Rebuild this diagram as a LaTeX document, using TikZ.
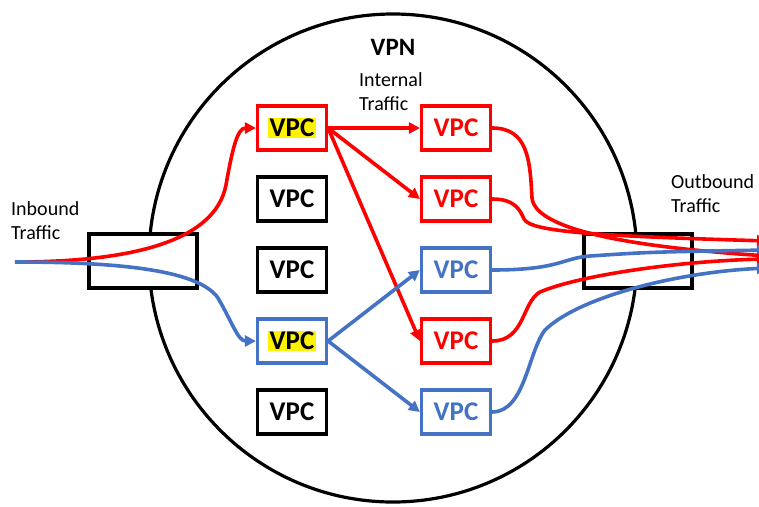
\documentclass[tikz,border=0pt]{standalone}
\usepackage{fontspec}
\setmainfont{Carlito}
\usepackage{xcolor}
\usepackage{tikz}
\usetikzlibrary{arrows.meta}
\definecolor{vpnred}{RGB}{255,0,0}
\definecolor{vpnblue}{RGB}{68,114,196}
\newcommand{\hl}[1]{{\setlength{\fboxsep}{1.5pt}\colorbox{yellow}{#1}}}

\begin{document}
\begin{tikzpicture}[x=1pt,y=-1pt,>={Triangle[length=11pt,width=11pt]},
			vpc/.style={draw=black,line width=3.2pt,fill=white,minimum width=69pt,minimum height=44pt,inner sep=0pt,font=\fontsize{27}{29}\selectfont\bfseries},
			gate/.style={draw=black,line width=3.2pt,fill=white,minimum width=108pt,minimum height=54pt},
			flow/.style={line width=3.6pt},
			lbl/.style={align=left,anchor=north west,inner sep=0pt,font=\fontsize{20}{24}\selectfont},
			]
			\useasboundingbox (0,0) rectangle (759,506);
			% VPN circle
			\draw[line width=3.2pt] (393,258) circle (244pt);
			\node[font=\fontsize{25}{27}\selectfont\bfseries] (vpn) at (393,47) {VPN};
			
			% labels
			\node[lbl] (inlbl) at (11,201) {Inbound\\Traffic};
			\node[lbl] (outlbl) at (671,174) {Outbound\\Traffic};
			\node[lbl] (intlbl) at (359,72) {Internal\\Traffic};
			
			% gateways
			\node[gate] (ingate) at (143,261) {};
			\node[gate] (outgate) at (638,261) {};
			
			% left column
			\node[vpc,draw=vpnred] (l1) at (292,128) {\hl{VPC}};
			\node[vpc] (l2) at (292,199) {VPC};
			\node[vpc] (l3) at (292,270) {VPC};
			\node[vpc,draw=vpnblue] (l4) at (292,341) {\hl{VPC}};
			\node[vpc] (l5) at (292,412) {VPC};
			
			% right column
			\node[vpc,draw=vpnred,text=vpnred] (r1) at (456,128) {VPC};
			\node[vpc,draw=vpnred,text=vpnred] (r2) at (456,199) {VPC};
			\node[vpc,draw=vpnblue,text=vpnblue] (r3) at (456,270) {VPC};
			\node[vpc,draw=vpnred,text=vpnred] (r4) at (456,341) {VPC};
			\node[vpc,draw=vpnblue,text=vpnblue] (r5) at (456,412) {VPC};
			
			% inbound
			\coordinate (src) at (15,262);
			\draw[flow,vpnred,->] (src) .. controls (130,262) and (215,242) .. (226,185)
			.. controls (233,145) and (238,128) .. (l1.west);
			\draw[flow,vpnblue,->] (src) .. controls (130,262) and (200,272) .. (218,298)
			.. controls (232,322) and (238,341) .. (l4.west);
			
			% internal
			\draw[flow,vpnred,->] (l1.east) -- (r1.west);
			\draw[flow,vpnred,->] (l1.east) -- (r2.west);
			\draw[flow,vpnred,->] (l1.east) -- (r4.west);
			\draw[flow,vpnblue,->] (l4.east) -- (r3.west);
			\draw[flow,vpnblue,->] (l4.east) -- (r5.west);
			
			% outbound
			\coordinate (d1) at (768,256);
			\coordinate (d2) at (768,241);
			\coordinate (d3) at (768,250);
			\coordinate (d4) at (768,259);
			\coordinate (d5) at (768,268);
			\draw[flow,vpnred,->] (r1.east) .. controls (528,128) and (530,160) .. (532,198)
			.. controls (535,228) and (620,246) .. (d1);
			\draw[flow,vpnred,->] (r2.east) .. controls (515,199) and (520,210) .. (524,219)
			.. controls (530,232) and (600,236) .. (d2);
			\draw[flow,vpnblue,->] (r3.east) .. controls (560,270) and (562,258) .. (590,256)
			.. controls (650,252) .. (d3);
			\draw[flow,vpnred,->] (r4.east) .. controls (525,341) and (522,302) .. (540,292)
			.. controls (580,275) and (680,261) .. (d4);
			\draw[flow,vpnblue,->] (r5.east) .. controls (525,412) and (528,352) .. (545,330)
			.. controls (580,296) and (680,272) .. (d5);
		\end{tikzpicture}
\end{document}
